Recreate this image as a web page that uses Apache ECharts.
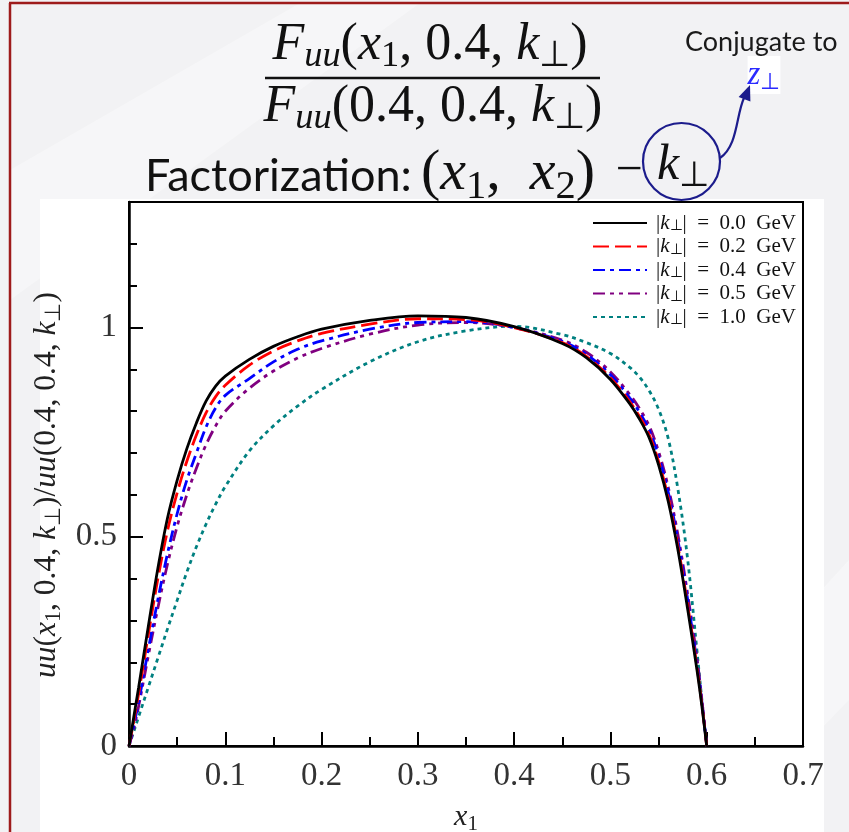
<!DOCTYPE html>
<html>
<head>
<meta charset="utf-8">
<script src="https://cdn.jsdelivr.net/npm/echarts@6/dist/echarts.min.js"></script>
<style>
html,body{margin:0;padding:0;background:#f2f2f4;}
#chart{width:849px;height:832px;}
</style>
</head>
<body>
<div id="chart"></div>
<script>
// ---- data ----
const xValues = [0, 0.005, 0.01, 0.02, 0.03, 0.04, 0.05, 0.06, 0.07, 0.08, 0.09, 0.1, 0.125, 0.15, 0.175, 0.2, 0.25, 0.3, 0.35, 0.4, 0.45, 0.475, 0.5, 0.52, 0.53, 0.54, 0.55, 0.56, 0.57, 0.58, 0.59, 0.595, 0.6];
const k00 = [0, 0.07, 0.14, 0.285, 0.425, 0.545, 0.635, 0.71, 0.772, 0.824, 0.86, 0.884, 0.924, 0.955, 0.978, 0.996, 1.017, 1.028, 1.024, 1.002, 0.962, 0.928, 0.876, 0.818, 0.782, 0.738, 0.672, 0.585, 0.47, 0.33, 0.18, 0.095, 0];
const k02 = [0, 0.06, 0.125, 0.265, 0.40, 0.515, 0.605, 0.68, 0.743, 0.796, 0.835, 0.862, 0.91, 0.944, 0.968, 0.986, 1.008, 1.021, 1.019, 1.0, 0.964, 0.931, 0.88, 0.823, 0.788, 0.745, 0.68, 0.593, 0.479, 0.34, 0.188, 0.1, 0];
const k04 = [0, 0.05, 0.105, 0.23, 0.35, 0.46, 0.555, 0.635, 0.70, 0.762, 0.808, 0.838, 0.878, 0.918, 0.948, 0.968, 0.996, 1.012, 1.014, 1.0, 0.967, 0.936, 0.887, 0.832, 0.798, 0.756, 0.693, 0.607, 0.493, 0.353, 0.197, 0.105, 0];
const k05 = [0, 0.042, 0.095, 0.215, 0.33, 0.435, 0.525, 0.60, 0.664, 0.72, 0.765, 0.80, 0.855, 0.896, 0.927, 0.95, 0.984, 1.006, 1.012, 1.0, 0.97, 0.941, 0.894, 0.84, 0.807, 0.766, 0.704, 0.619, 0.506, 0.366, 0.208, 0.11, 0];
const k10 = [0, 0.035, 0.07, 0.14, 0.21, 0.28, 0.348, 0.415, 0.476, 0.53, 0.578, 0.62, 0.705, 0.765, 0.812, 0.852, 0.918, 0.966, 0.992, 1.003, 0.983, 0.964, 0.938, 0.905, 0.882, 0.85, 0.805, 0.735, 0.615, 0.45, 0.225, 0.11, 0];
const kValues = ['0.0', '0.2', '0.4', '0.5', '1.0'];
const seriesNames = kValues.map(k => '|k⊥| = ' + k + ' GeV');
const xTickLabels = ['0', '0.1', '0.2', '0.3', '0.4', '0.5', '0.6', '0.7'];
const yLabelValues = [0, 0.5, 1];
const yLabelTexts = ['0', '0.5', '1'];

// ---- styles ----
const serif = 'Liberation Serif';
const sans = 'Lato';
const seriesData = [k00, k02, k04, k05, k10];
const colors = ['#000000', '#ff0000', '#0000ff', '#800080', '#008080'];
const dashes = ['solid', [16, 6], [12, 5, 4, 5], [12, 5, 4, 5, 4, 5], [4, 4]];

function pairs(ys) { return xValues.map((x, i) => [x, ys[i]]); }

function mathRich(size, color) {
  return {
    m: { fontFamily: serif, fontSize: size, lineHeight: size * 1.15, color: color, fill: color },
    i: { fontFamily: serif, fontStyle: 'italic', fontSize: size, lineHeight: size * 1.15, color: color, fill: color },
    s: { fontFamily: serif, fontStyle: 'italic', fontSize: size * 0.7, lineHeight: size * 0.55, verticalAlign: 'bottom', color: color, fill: color },
    sn: { fontFamily: serif, fontSize: size * 0.7, lineHeight: size * 0.55, verticalAlign: 'bottom', color: color, fill: color },
    sans: { fontFamily: sans, fontSize: size * 0.9, lineHeight: size * 1.15, color: color, fill: color }
  };
}

const chart = echarts.init(document.getElementById('chart'), null, { renderer: 'canvas' });

const option = {
  backgroundColor: '#f2f2f4',
  animation: false,
  graphic: {
    elements: [
      { type: 'polygon', z: -120, shape: { points: [[10, 170], [300, 3], [420, 3], [10, 300]] }, style: { fill: 'rgba(255,255,255,0.35)' } },
      { type: 'polygon', z: -120, shape: { points: [[600, 832], [849, 560], [849, 700], [720, 832]] }, style: { fill: 'rgba(255,255,255,0.35)' } },
      { type: 'rect', z: -100, shape: { x: 40, y: 199, width: 784, height: 633 }, style: { fill: '#ffffff' } },
      { type: 'line', z: 50, shape: { x1: 10, y1: 3, x2: 10, y2: 832 }, style: { stroke: '#9e1b1b', lineWidth: 2.5 } },
      { type: 'line', z: 50, shape: { x1: 9, y1: 3, x2: 849, y2: 3 }, style: { stroke: '#9e1b1b', lineWidth: 2.5 } },
      // fraction
      { type: 'text', z: 20, x: 430, y: 45, style: { text: '{i|F}{s|uu}{m|(}{i|x}{sn|1}{m|, 0.4, }{i|k}{sn|⊥}{m|)}', align: 'center', verticalAlign: 'middle', rich: mathRich(52, '#111') } },
      { type: 'line', z: 20, shape: { x1: 265, y1: 78, x2: 600, y2: 78 }, style: { stroke: '#111', lineWidth: 2.5 } },
      { type: 'text', z: 20, x: 433, y: 107, style: { text: '{i|F}{s|uu}{m|(0.4, 0.4, }{i|k}{sn|⊥}{m|)}', align: 'center', verticalAlign: 'middle', rich: mathRich(52, '#111') } },
      // factorization line
      { type: 'text', z: 20, x: 145, y: 176, style: { text: '{sans|Factorization:}', align: 'left', verticalAlign: 'middle', rich: mathRich(50, '#111') } },
      { type: 'text', z: 20, x: 508, y: 174, style: { text: '{m|(}{i|x}{sn|1}{m|,  }{i|x}{sn|2}{m|)}', align: 'center', verticalAlign: 'middle', rich: mathRich(58, '#111') } },
      { type: 'text', z: 20, x: 629, y: 171, style: { text: '−', align: 'center', verticalAlign: 'middle', fontFamily: serif, fontSize: 48, fill: '#111' } },
      { type: 'text', z: 20, x: 683, y: 166, style: { text: '{i|k}{sn|⊥}', align: 'center', verticalAlign: 'middle', rich: mathRich(50, '#111') } },
      { type: 'circle', z: 30, shape: { cx: 681.5, cy: 161.5, r: 38.5 }, style: { fill: 'none', stroke: '#1c1c8c', lineWidth: 2.2 } },
      { type: 'bezierCurve', z: 30, shape: { x1: 720, y1: 158, cpx1: 738, cpy1: 146, cpx2: 736, cpy2: 115, x2: 744, y2: 98 }, style: { fill: 'none', stroke: '#1c1c8c', lineWidth: 2.2 } },
      { type: 'polygon', z: 30, shape: { points: [[750, 85], [738.6, 97], [750.4, 101.5]] }, style: { fill: '#1c1c8c' } },
      { type: 'text', z: 20, x: 685, y: 42, style: { text: 'Conjugate to', align: 'left', verticalAlign: 'middle', fontFamily: sans, fontSize: 27, fill: '#1a1a1a' } },
      { type: 'text', z: 20, x: 764, y: 75, style: { text: '{i|z}{sn|⊥}', align: 'center', verticalAlign: 'middle', backgroundColor: '#ffffff', rich: mathRich(33, '#2b2bff') } }
    ]
  },
  grid: { left: 129, right: 46, top: 202, bottom: 86, show: true, borderColor: '#000', borderWidth: 2, backgroundColor: '#ffffff', containLabel: false, outerBoundsMode: 'none' },
  legend: {
    orient: 'vertical',
    left: 587, top: 207,
    itemWidth: 54, itemHeight: 14, itemGap: 1.5,
    itemStyle: { opacity: 0 },
    data: seriesNames,
    formatter: function (name) {
      const k = kValues[seriesNames.indexOf(name)];
      return '{n||}{i|k}{s|⊥}{n||  =  ' + k + '  GeV}';
    },
    textStyle: {
      padding: [0, 0, 0, 4],
      lineHeight: 22,
      rich: {
        n: { fontFamily: serif, fontSize: 21, lineHeight: 22, color: '#111' },
        i: { fontFamily: serif, fontStyle: 'italic', fontSize: 21, lineHeight: 22, color: '#111' },
        s: { fontFamily: serif, fontSize: 15, lineHeight: 11, verticalAlign: 'bottom', color: '#111' }
      }
    }
  },
  xAxis: {
    type: 'value', min: 0, max: 0.7, interval: 0.1,
    axisLine: { onZero: false, lineStyle: { color: '#000', width: 2.5 } },
    axisTick: { inside: true, length: 14, lineStyle: { color: '#000', width: 2 } },
    minorTick: { show: true, splitNumber: 2, length: 9, lineStyle: { color: '#000', width: 2 } },
    splitLine: { show: false },
    axisLabel: {
      margin: 14, fontFamily: serif, fontSize: 33, color: '#333',
      formatter: function (v) { return xTickLabels[Math.round(v * 10)]; }
    },
    name: '{i|x}{sn|1}', nameLocation: 'middle', nameGap: 54,
    nameTextStyle: { rich: mathRich(30, '#222') }
  },
  yAxis: [
    {
      type: 'value', min: 0, max: 1.3, interval: 0.1, position: 'left',
      axisLine: { onZero: false, lineStyle: { color: '#000', width: 2.5 } },
      axisTick: { inside: true, length: 8, lineStyle: { color: '#000', width: 2 } },
      splitLine: { show: false },
      axisLabel: {
        margin: 12, fontFamily: serif, fontSize: 33, color: '#333',
        formatter: function (v) {
          for (let j = 0; j < yLabelValues.length; j++) {
            if (Math.abs(v - yLabelValues[j]) < 1e-6) return yLabelTexts[j];
          }
          return '';
        }
      },
      name: '{i|uu}{m|(}{i|x}{sn|1}{m|, 0.4, }{i|k}{sn|⊥}{m|)/}{i|uu}{m|(0.4, 0.4, }{i|k}{sn|⊥}{m|)}',
      nameLocation: 'middle', nameRotate: 90, nameGap: 54,
      nameTextStyle: { padding: [0, 22, 0, 0], rich: mathRich(31.5, '#222') }
    },
    {
      type: 'value', min: 0, max: 1.3, interval: 0.5, position: 'left', offset: 0,
      axisLine: { show: false },
      axisTick: { inside: true, length: 14, lineStyle: { color: '#000', width: 2 } },
      axisLabel: { show: false },
      splitLine: { show: false }
    }
  ],
  series: seriesData.map((ys, idx) => ({
    name: seriesNames[idx],
    type: 'line',
    yAxisIndex: 0,
    data: pairs(ys),
    symbol: 'none',
    showSymbol: false,
    smooth: 0.35,
    z: 10 - idx,
    lineStyle: { color: colors[idx], width: 2.8, type: dashes[idx] },
    itemStyle: { color: colors[idx] }
  }))
};
chart.setOption(option);
</script>
</body>
</html>
